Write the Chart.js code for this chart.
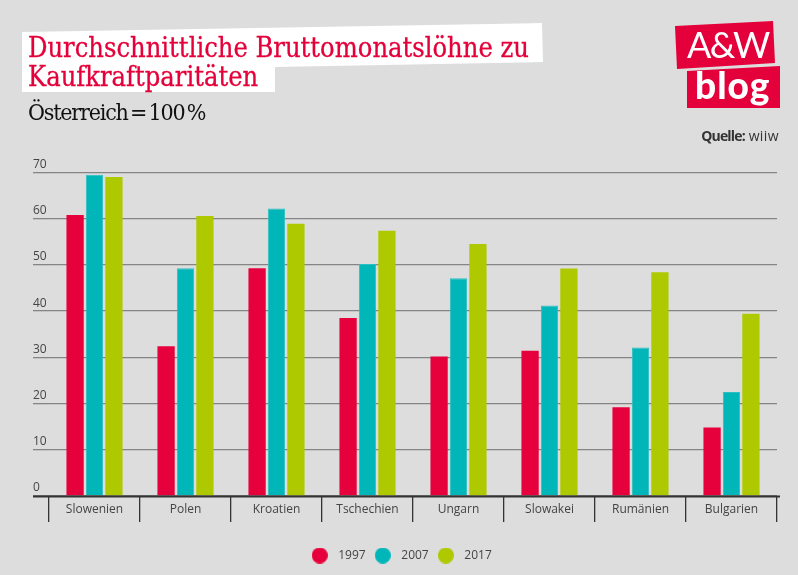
<!DOCTYPE html>
<html lang="de">
<head>
<meta charset="utf-8">
<title>Durchschnittliche Bruttomonatslöhne zu Kaufkraftparitäten</title>
<script src="https://cdn.jsdelivr.net/npm/chart.js@4"></script>
<style>
  html, body { margin: 0; padding: 0; background: #dddddd; }
  #page { position: relative; width: 798px; height: 575px; overflow: hidden; }
  #chart { position: absolute; left: 0; top: 0; }
  #page div { position: absolute; white-space: nowrap; }
  #titlebox {
    left: 0; top: 0; width: 798px; height: 120px; background: #fff;
    clip-path: polygon(22px 32px, 542px 23px, 543px 62px, 275px 67px, 275px 92px, 22px 92px);
  }
  .title { left: 28px; font: 27px/30px "DejaVu Serif Condensed", "DejaVu Serif", serif; color: #e4003a; -webkit-text-stroke: 0.3px #e4003a; }
  #subtitle { left: 28px; top: 97px; font: 23px/30px "DejaVu Serif Condensed", "DejaVu Serif", serif; color: #111; letter-spacing: -1.2px; word-spacing: -3px; }
  #logo1 { left: 0; top: 0; width: 798px; height: 120px; background: #e4003a;
    clip-path: polygon(675px 26px, 773px 21px, 775px 63px, 677px 69px); }
  #logo2 { left: 0; top: 0; width: 798px; height: 120px; background: #e4003a;
    clip-path: polygon(687px 71px, 780px 66px, 780px 108px, 687px 108px); }
  #logoAW { left: 687px; top: 24px; font: 400 36px/40px Lato, sans-serif; color: #fff; letter-spacing: -1.5px; }
  #logoBlog { left: 695px; top: 65px; font: 900 37px/40px Lato, sans-serif; color: #fff; letter-spacing: 1px; }
  #source { right: 19px; top: 127px; font: 14px/18px "Open Sans", sans-serif; color: #333; }
  #source b { letter-spacing: -0.8px; }
  #source span { letter-spacing: 0.4px; }
</style>
</head>
<body>
<div id="page">
  <canvas id="chart" width="798" height="575"></canvas>
  <div id="titlebox"></div>
  <div class="title" style="top:33px">Durchschnittliche Bruttomonatslöhne zu</div>
  <div class="title" style="top:62px">Kaufkraftparitäten</div>
  <div id="subtitle">Österreich = 100 %</div>
  <div id="logo1"></div>
  <div id="logo2"></div>
  <div id="logoAW">A&amp;W</div>
  <div id="logoBlog">blog</div>
  <div id="source"><b>Quelle:</b> <span>wiiw</span></div>
</div>
<script>
var countries = ["Slowenien", "Polen", "Kroatien", "Tschechien", "Ungarn", "Slowakei", "Rumänien", "Bulgarien"];
var values1997 = [60.8, 32.4, 49.3, 38.5, 30.2, 31.4, 19.2, 14.8];
var values2007 = [69.5, 49.3, 62.2, 50.2, 47.1, 41.2, 32.1, 22.5];
var values2017 = [69.0, 60.6, 58.9, 57.4, 54.5, 49.2, 48.4, 39.4];

var red = "#e6003c";
var teal = "#00b6b9";
var green = "#afc900";
var labelFont = { family: "'Open Sans', sans-serif", size: 12 };

// Legendenpunkt als Canvas, damit der Abstand zum Text stimmt
function makeDot(color) {
  var c = document.createElement("canvas");
  c.width = 16;
  c.height = 16;
  var g = c.getContext("2d");
  g.fillStyle = color;
  g.beginPath();
  g.arc(8, 8, 8, 0, Math.PI * 2);
  g.fill();
  return c;
}

// dicke Grundlinie, ragt rechts etwas ueber die Flaeche hinaus
var baseline = {
  id: "baseline",
  afterLayout: function(chart) {
    // Legende sitzt in der Mitte der Seite, nicht des gepolsterten Bereichs
    chart.legend.left -= 5.5;
    chart.legend.right -= 5.5;
  },
  afterDatasetsDraw: function(chart) {
    var y = chart.scales.y;
    var ctx = chart.ctx;
    var py = Math.round(y.getPixelForValue(0)) + 0.5;
    ctx.save();
    ctx.strokeStyle = "#333333";
    ctx.lineWidth = 2;
    ctx.beginPath();
    ctx.moveTo(y.left, py);
    ctx.lineTo(chart.chartArea.right + 3, py);
    ctx.stroke();
    ctx.restore();
  }
};

new Chart(document.getElementById("chart"), {
  type: "bar",
  plugins: [baseline],
  data: {
    labels: countries,
    datasets: [
      { label: "1997", data: values1997, backgroundColor: red },
      { label: "2007", data: values2007, backgroundColor: teal, borderColor: "#2cbfc1", borderWidth: 1, borderSkipped: "bottom" },
      { label: "2017", data: values2017, backgroundColor: green }
    ]
  },
  options: {
    responsive: false,
    animation: false,
    layout: { padding: { left: 33, right: 21, top: 172.5, bottom: 3.5 } },
    datasets: { bar: { categoryPercentage: 0.64, barPercentage: 0.89 } },
    scales: {
      x: {
        afterFit: function(scale) { scale.height = 49; },
        border: { display: false },
        grid: { offset: true, drawOnChartArea: false, tickLength: 26, color: "#333333", lineWidth: 1.3 },
        ticks: { padding: -19.5, color: "#444444", font: labelFont, maxRotation: 0 }
      },
      y: {
        min: 0,
        max: 70,
        afterFit: function(scale) { scale.width = 16; },
        border: { display: false },
        grid: { tickLength: 16, color: "#858585", lineWidth: 1.3 },
        ticks: { stepSize: 10, align: "end", crossAlign: "far", padding: 0, labelOffset: -2, color: "#444444", font: labelFont }
      }
    },
    plugins: {
      tooltip: { enabled: false },
      legend: {
        position: "bottom",
        labels: {
          usePointStyle: true,
          pointStyleWidth: 25,
          padding: 4.6,
          color: "#444444",
          font: labelFont,
          generateLabels: function(chart) {
            return chart.data.datasets.map(function(ds, i) {
              return {
                text: ds.label,
                fontColor: "#444444",
                fillStyle: ds.backgroundColor,
                lineWidth: 0,
                pointStyle: makeDot(ds.backgroundColor),
                datasetIndex: i
              };
            });
          }
        }
      }
    }
  }
});
</script>
</body>
</html>
